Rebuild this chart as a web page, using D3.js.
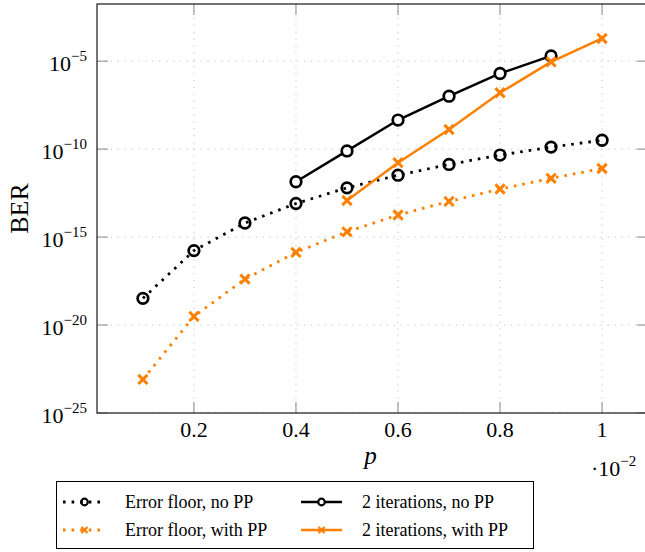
<!DOCTYPE html>
<html>
<head>
<meta charset="utf-8">
<script src="https://cdn.jsdelivr.net/npm/d3@7"></script>
<style>
  html, body { margin: 0; padding: 0; background: #fff; }
  svg { display: block; }
  text { font-family: "Liberation Serif", "DejaVu Serif", serif; fill: #000; }
</style>
</head>
<body>
<svg id="chart" width="645" height="552"></svg>
<script>
// p values (in units of 10^-2)
const pValues = [0.1, 0.2, 0.3, 0.4, 0.5, 0.6, 0.7, 0.8, 0.9, 1.0];
const pIter = [0.4, 0.5, 0.6, 0.7, 0.8, 0.9];
const pIterPP = [0.5, 0.6, 0.7, 0.8, 0.9, 1.0];

// bit error rates
const floorNoPP = [3.3e-19, 1.7e-16, 6.3e-15, 8.1e-14, 6.3e-13, 3.3e-12, 1.35e-11, 4.6e-11, 1.3e-10, 3.2e-10];
const floorPP   = [8.1e-24, 3.1e-20, 4.1e-18, 1.35e-16, 2.0e-15, 1.8e-14, 1.07e-13, 5.4e-13, 2.2e-12, 7.9e-12];
const iterNoPP  = [1.4e-12, 7.9e-11, 4.5e-9, 1.02e-7, 2.0e-6, 2.0e-5];
const iterPP    = [1.2e-13, 1.7e-11, 1.3e-9, 1.6e-7, 9.1e-6, 1.95e-4];

const xTicks = [0.2, 0.4, 0.6, 0.8, 1];
const xTickLabels = ["0.2", "0.4", "0.6", "0.8", "1"];
const yTickExps = [-25, -20, -15, -10, -5];

const seriesNames = ["Error floor, no PP", "Error floor, with PP", "2 iterations, no PP", "2 iterations, with PP"];

const BLACK = "#000000";
const ORANGE = "#ff8000";
const SERIF = "'Liberation Serif', 'DejaVu Serif', serif";

const svg = d3.select("#chart");
const plotL = 97, plotR = 648, plotT = 4, plotB = 413;

const x = d3.scaleLinear().domain([0.01, 1.09]).range([plotL, plotR]);
const y = d3.scaleLog().domain([1e-25, Math.pow(10, -1.75)]).range([plotB, plotT]);

// grid
const grid = svg.append("g");
grid.selectAll("line.gx").data(xTicks).join("line")
  .attr("x1", d => x(d)).attr("x2", d => x(d))
  .attr("y1", plotT).attr("y2", plotB)
  .attr("stroke", "#c4c4c4").attr("stroke-width", 1)
  .attr("stroke-dasharray", "1.3 5.6");
grid.selectAll("line.gy").data(yTickExps).join("line")
  .attr("x1", plotL).attr("x2", plotR)
  .attr("y1", d => y(Math.pow(10, d))).attr("y2", d => y(Math.pow(10, d)))
  .attr("stroke", "#c4c4c4").attr("stroke-width", 1)
  .attr("stroke-dasharray", "1.3 5.6");

// inward ticks on all four sides
const ticks = svg.append("g").attr("stroke", "#9a9a9a").attr("stroke-width", 1.2);
xTicks.forEach(t => {
  ticks.append("line").attr("x1", x(t)).attr("x2", x(t)).attr("y1", plotB).attr("y2", plotB - 11);
  ticks.append("line").attr("x1", x(t)).attr("x2", x(t)).attr("y1", plotT).attr("y2", plotT + 11);
});
yTickExps.forEach(e => {
  const yy = y(Math.pow(10, e));
  ticks.append("line").attr("x1", plotL).attr("x2", plotL + 11).attr("y1", yy).attr("y2", yy);
  ticks.append("line").attr("x1", plotR).attr("x2", plotR - 11).attr("y1", yy).attr("y2", yy);
});

// frame
svg.append("rect")
  .attr("x", plotL).attr("y", plotT)
  .attr("width", plotR - plotL).attr("height", plotB - plotT)
  .attr("fill", "none").attr("stroke", "#2a2a2a").attr("stroke-width", 1.3);

// x tick labels
svg.append("g").selectAll("text").data(xTicks).join("text")
  .attr("x", d => x(d)).attr("y", 437)
  .attr("text-anchor", "middle")
  .attr("font-family", SERIF)
  .attr("font-size", 22)
  .text((d, i) => xTickLabels[i]);

// y tick labels 10^e
const yl = svg.append("g").selectAll("text").data(yTickExps).join("text")
  .attr("x", 87).attr("y", d => y(Math.pow(10, d)) + 10)
  .attr("text-anchor", "end")
  .attr("font-family", SERIF)
  .attr("font-size", 22);
yl.append("tspan").text("10");
yl.append("tspan").attr("dy", -10).attr("font-size", 15).text(d => "\u2212" + Math.abs(d));

// axis titles
svg.append("text")
  .attr("transform", `translate(28,${(plotT + plotB) / 2}) rotate(-90)`)
  .attr("text-anchor", "middle")
  .attr("font-family", SERIF)
  .attr("font-size", 26)
  .text("BER");
svg.append("text")
  .attr("x", (plotL + plotR) / 2 - 2).attr("y", 464)
  .attr("text-anchor", "middle")
  .attr("font-family", SERIF)
  .attr("font-size", 25).attr("font-style", "italic")
  .text("p");
const sc = svg.append("text").attr("x", 591).attr("y", 476)
  .attr("font-family", SERIF).attr("font-size", 22);
sc.append("tspan").text("\u00b710");
sc.append("tspan").attr("dy", -10).attr("font-size", 15).text("\u22122");

// series
const series = [
  { name: seriesNames[0], xs: pValues, ys: floorNoPP, color: BLACK, dotted: true, mark: "o" },
  { name: seriesNames[1], xs: pValues, ys: floorPP, color: ORANGE, dotted: true, mark: "x" },
  { name: seriesNames[2], xs: pIter, ys: iterNoPP, color: BLACK, dotted: false, mark: "o" },
  { name: seriesNames[3], xs: pIterPP, ys: iterPP, color: ORANGE, dotted: false, mark: "x" }
];

const line = d3.line().x(d => x(d[0])).y(d => y(d[1]));

function drawMark(g, cx, cy, s, color, big) {
  if (s.mark === "o") {
    g.append("circle").attr("cx", cx).attr("cy", cy).attr("r", big ? 5.3 : 3.3)
      .attr("fill", s.dotted ? "none" : "#fff")
      .attr("stroke", color).attr("stroke-width", big ? 2.7 : 2.2);
  } else {
    const h = big ? 4.6 : 3;
    g.append("path")
      .attr("d", `M${cx - h},${cy - h}L${cx + h},${cy + h}M${cx - h},${cy + h}L${cx + h},${cy - h}`)
      .attr("stroke", color).attr("stroke-width", big ? 3 : 2.4).attr("fill", "none");
  }
}

const plot = svg.append("g");
series.forEach(s => {
  const pts = s.xs.map((v, i) => [v, s.ys[i]]);
  plot.append("path").datum(pts)
    .attr("d", line)
    .attr("fill", "none")
    .attr("stroke", s.color)
    .attr("stroke-width", s.dotted ? 2.8 : 2.5)
    .attr("stroke-dasharray", s.dotted ? "2.6 6" : null);
  const mg = plot.append("g");
  pts.forEach(p => drawMark(mg, x(p[0]), y(p[1]), s, s.color, true));
});

// legend
const lg = svg.append("g");
lg.append("rect").attr("x", 56.5).attr("y", 481.5).attr("width", 477).attr("height", 67)
  .attr("fill", "#fff").attr("stroke", "#000").attr("stroke-width", 1);
const legendPos = [
  { x0: 63, x1: 106, tx: 125, cy: 502 },
  { x0: 63, x1: 106, tx: 125, cy: 530 },
  { x0: 301, x1: 342, tx: 362, cy: 502 },
  { x0: 301, x1: 342, tx: 362, cy: 530 }
];
series.forEach((s, i) => {
  const p = legendPos[i];
  lg.append("line").attr("x1", p.x0).attr("x2", p.x1).attr("y1", p.cy).attr("y2", p.cy)
    .attr("stroke", s.color).attr("stroke-width", s.dotted ? 2.8 : 2.5)
    .attr("stroke-dasharray", s.dotted ? "2.6 6" : null);
  drawMark(lg, (p.x0 + p.x1) / 2, p.cy, s, s.color, false);
  lg.append("text").attr("x", p.tx).attr("y", p.cy + 6)
    .attr("font-family", SERIF)
    .attr("font-size", 18).text(s.name);
});
</script>
</body>
</html>
